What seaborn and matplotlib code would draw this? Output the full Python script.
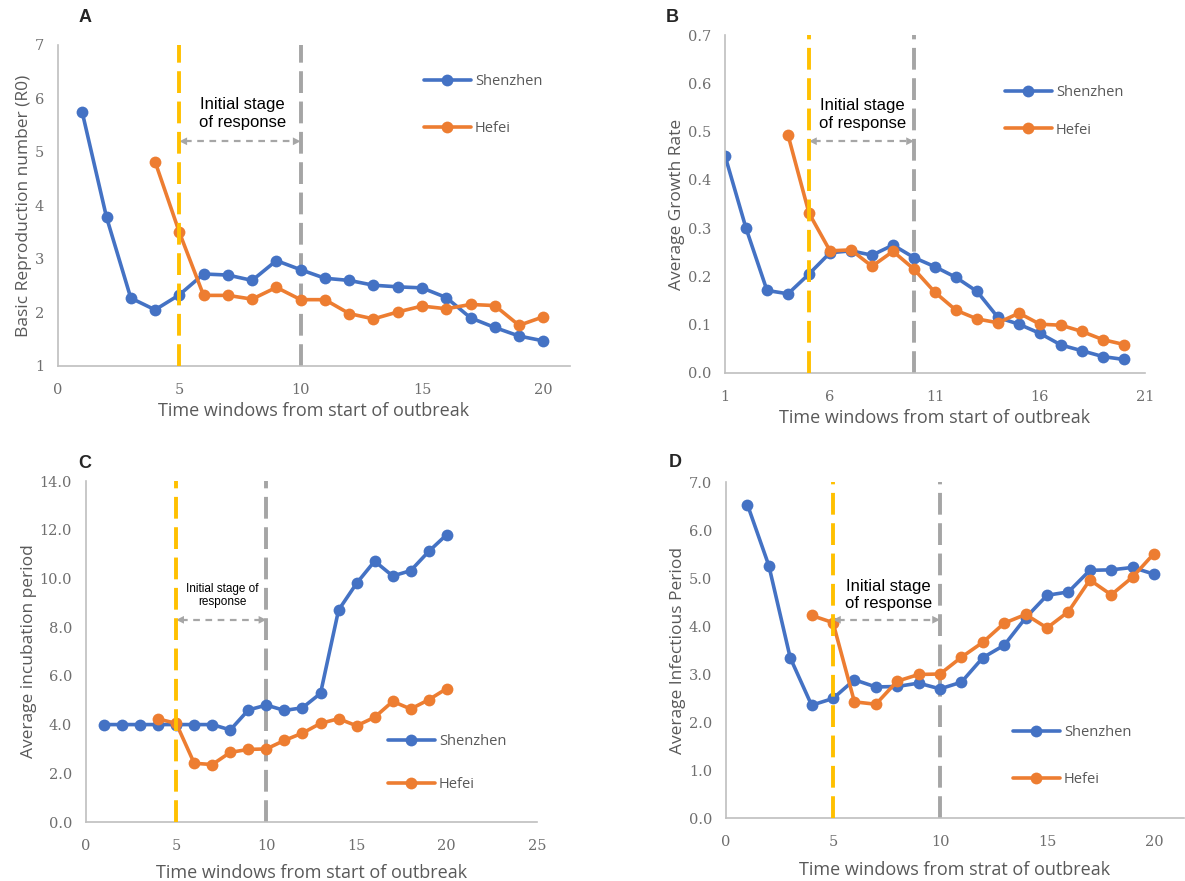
import matplotlib
matplotlib.use("Agg")
import matplotlib.pyplot as plt
import seaborn as sns

# Data (time windows 1..20, Hefei starts at window 4)
windows_sz = list(range(1, 21))
windows_hf = list(range(4, 21))

# A - basic reproduction number
r0_shenzhen = [5.74, 3.78, 2.27, 2.05, 2.33, 2.72, 2.70, 2.60, 2.97, 2.80,
               2.64, 2.60, 2.51, 2.48, 2.46, 2.28, 1.90, 1.72, 1.56, 1.47]
r0_hefei = [4.82, 3.50, 2.32, 2.32, 2.25, 2.47, 2.24, 2.24, 1.98, 1.88,
            2.01, 2.12, 2.07, 2.15, 2.13, 1.76, 1.92]

# B - average growth rate
growth_shenzhen = [0.450, 0.300, 0.171, 0.164, 0.205, 0.249, 0.253, 0.244, 0.265, 0.239,
                   0.220, 0.198, 0.169, 0.115, 0.101, 0.082, 0.058, 0.046, 0.034, 0.028]
growth_hefei = [0.493, 0.331, 0.253, 0.255, 0.221, 0.252, 0.215, 0.167, 0.130, 0.112,
                0.104, 0.124, 0.101, 0.099, 0.086, 0.069, 0.059]

# C - average incubation period
incub_shenzhen = [4.0, 4.0, 4.0, 4.0, 4.0, 4.0, 4.0, 3.78, 4.6, 4.8,
                  4.58, 4.69, 5.28, 8.70, 9.80, 10.71, 10.10, 10.32, 11.11, 11.80]
incub_hefei = [4.23, 4.05, 2.41, 2.36, 2.86, 2.98, 3.0, 3.35, 3.65, 4.05,
               4.24, 3.95, 4.30, 4.95, 4.64, 5.02, 5.48]

# D - average infectious period
infect_shenzhen = [6.53, 5.26, 3.34, 2.35, 2.49, 2.88, 2.73, 2.74, 2.81, 2.69,
                   2.83, 3.34, 3.60, 4.17, 4.64, 4.71, 5.16, 5.17, 5.22, 5.08]
infect_hefei = [4.22, 4.07, 2.42, 2.37, 2.85, 2.99, 3.0, 3.35, 3.66, 4.06,
                4.24, 3.96, 4.30, 4.96, 4.65, 5.02, 5.51]

BLUE = "#4472C4"
ORANGE = "#ED7D31"
YELLOW = "#FFC000"
GREY = "#A5A5A5"
TEXT_GREY = "#595959"

sns.set_theme(style="white")
plt.rcParams["font.family"] = ["Open Sans", "DejaVu Sans"]

W, H = 1185, 881
fig = plt.figure(figsize=(W / 100, H / 100), dpi=100)


def px_axes(left, top, right, bottom):
    # axes rectangle given in figure pixels
    return fig.add_axes([left / W, 1 - bottom / H, (right - left) / W, (bottom - top) / H])


def draw_panel(ax, sz, hf, ylim, yticks, yfmt, xlim, xticks, ylabel, xlabel,
               arrow_y, text_xy, text, text_size, leg_xy, leg_spacing, xlabelpad):
    sns.lineplot(x=windows_sz, y=sz, color=BLUE, marker="o", markersize=8.5,
                 markeredgewidth=0, linewidth=2.6, ax=ax, legend=False)
    line_sz = ax.lines[-1]
    sns.lineplot(x=windows_hf, y=hf, color=ORANGE, marker="o", markersize=8.5,
                 markeredgewidth=0, linewidth=2.6, ax=ax, legend=False)
    line_hf = ax.lines[-1]

    # stage markers
    ax.axvline(5, color=YELLOW, linewidth=2.8, dashes=(5.6, 2.2), zorder=4)
    ax.axvline(10, color=GREY, linewidth=2.8, dashes=(5.6, 2.2), zorder=1)

    # double arrow between the two lines
    ax.plot([5.25, 9.75], [arrow_y, arrow_y], color="#A6A6A6", linewidth=1.6,
            dashes=(3, 2.5))
    for tip, tail in [(5, 5.4), (10, 9.6)]:
        ax.annotate("", xy=(tip, arrow_y), xytext=(tail, arrow_y),
                    arrowprops=dict(arrowstyle="-|>", color="#A6A6A6", lw=0,
                                    mutation_scale=14, shrinkA=0, shrinkB=0))
    ax.text(text_xy[0], text_xy[1], text, ha="center", va="center",
            multialignment="center", fontsize=text_size,
            family=["Liberation Sans", "DejaVu Sans"], color="black")

    ax.set_xlim(*xlim)
    ax.set_ylim(*ylim)
    ax.set_xticks(xticks)
    ax.set_yticks(yticks)
    ax.set_yticklabels([yfmt.format(v) for v in yticks])
    ax.tick_params(axis="x", length=0, labelsize=10.5, labelcolor="#6E6E6E", pad=12)
    ax.tick_params(axis="y", length=0, labelsize=10.5, labelcolor="#6E6E6E", pad=10)
    for lab in ax.get_xticklabels() + ax.get_yticklabels():
        lab.set_family(["DejaVu Serif"])
    for side in ["top", "right"]:
        ax.spines[side].set_visible(False)
    for side in ["left", "bottom"]:
        ax.spines[side].set_color("#BFBFBF")
        ax.spines[side].set_linewidth(1.2)
    ax.set_ylabel(ylabel, fontsize=12.5, color=TEXT_GREY, labelpad=2)
    ax.set_xlabel(xlabel, fontsize=13, color=TEXT_GREY, labelpad=xlabelpad)

    ax.legend(handles=[line_sz, line_hf], labels=["Shenzhen", "Hefei"],
              loc="upper left", bbox_to_anchor=(leg_xy[0] / W, 1 - leg_xy[1] / H),
              bbox_transform=fig.transFigure, frameon=False, handlelength=3.2,
              handletextpad=0.3, borderpad=0, borderaxespad=0,
              labelspacing=leg_spacing, fontsize=10.5, labelcolor=TEXT_GREY)


# Panel A
ax_a = px_axes(58, 45, 570, 366)
draw_panel(ax_a, r0_shenzhen, r0_hefei, (1, 7), [1, 2, 3, 4, 5, 6, 7], "{:.0f}",
           (0, 21.1), [0, 5, 10, 15, 20], "Basic Reproduction number (R0)",
           "Time windows from start of outbreak", 5.2, (7.6, 5.72),
           "Initial stage\nof response", 12, (424, 74), 2.2, 4)

# Panel B
ax_b = px_axes(725, 35, 1145, 373)
draw_panel(ax_b, growth_shenzhen, growth_hefei, (0, 0.7),
           [0, 0.1, 0.2, 0.3, 0.4, 0.5, 0.6, 0.7], "{:.1f}",
           (1, 21), [1, 6, 11, 16, 21], "Average Growth Rate",
           "Time windows from start of outbreak", 0.48, (7.55, 0.535),
           "Initial stage\nof response", 12, (1005, 85), 1.55, 4)

# Panel C
ax_c = px_axes(86, 481, 537, 822)
draw_panel(ax_c, incub_shenzhen, incub_hefei, (0, 14),
           [0, 2, 4, 6, 8, 10, 12, 14], "{:.1f}",
           (0, 25), [0, 5, 10, 15, 20, 25], "Average incubation period",
           "Time windows from start of outbreak", 8.3, (7.55, 9.3),
           "Initial stage of\nresponse", 8.5, (388, 734), 1.9, 8)

# Panel D
ax_d = px_axes(726, 482, 1184, 818)
draw_panel(ax_d, infect_shenzhen, infect_hefei, (0, 7),
           [0, 1, 2, 3, 4, 5, 6, 7], "{:.1f}",
           (0, 21.4), [0, 5, 10, 15, 20], "Average Infectious Period",
           "Time windows from strat of outbreak", 4.13, (7.6, 4.65),
           "Initial stage\nof response", 12, (1013, 725), 2.2, 9)

# Panel letters
for letter, (lx, ly) in zip("ABCD", [(85, 18), (672, 18), (85, 464), (675, 463)]):
    fig.text(lx / W, 1 - ly / H, letter, ha="center", va="center", fontsize=13,
             fontweight="bold", family=["Liberation Sans", "DejaVu Sans"])

plt.savefig("out.png", dpi=100)
